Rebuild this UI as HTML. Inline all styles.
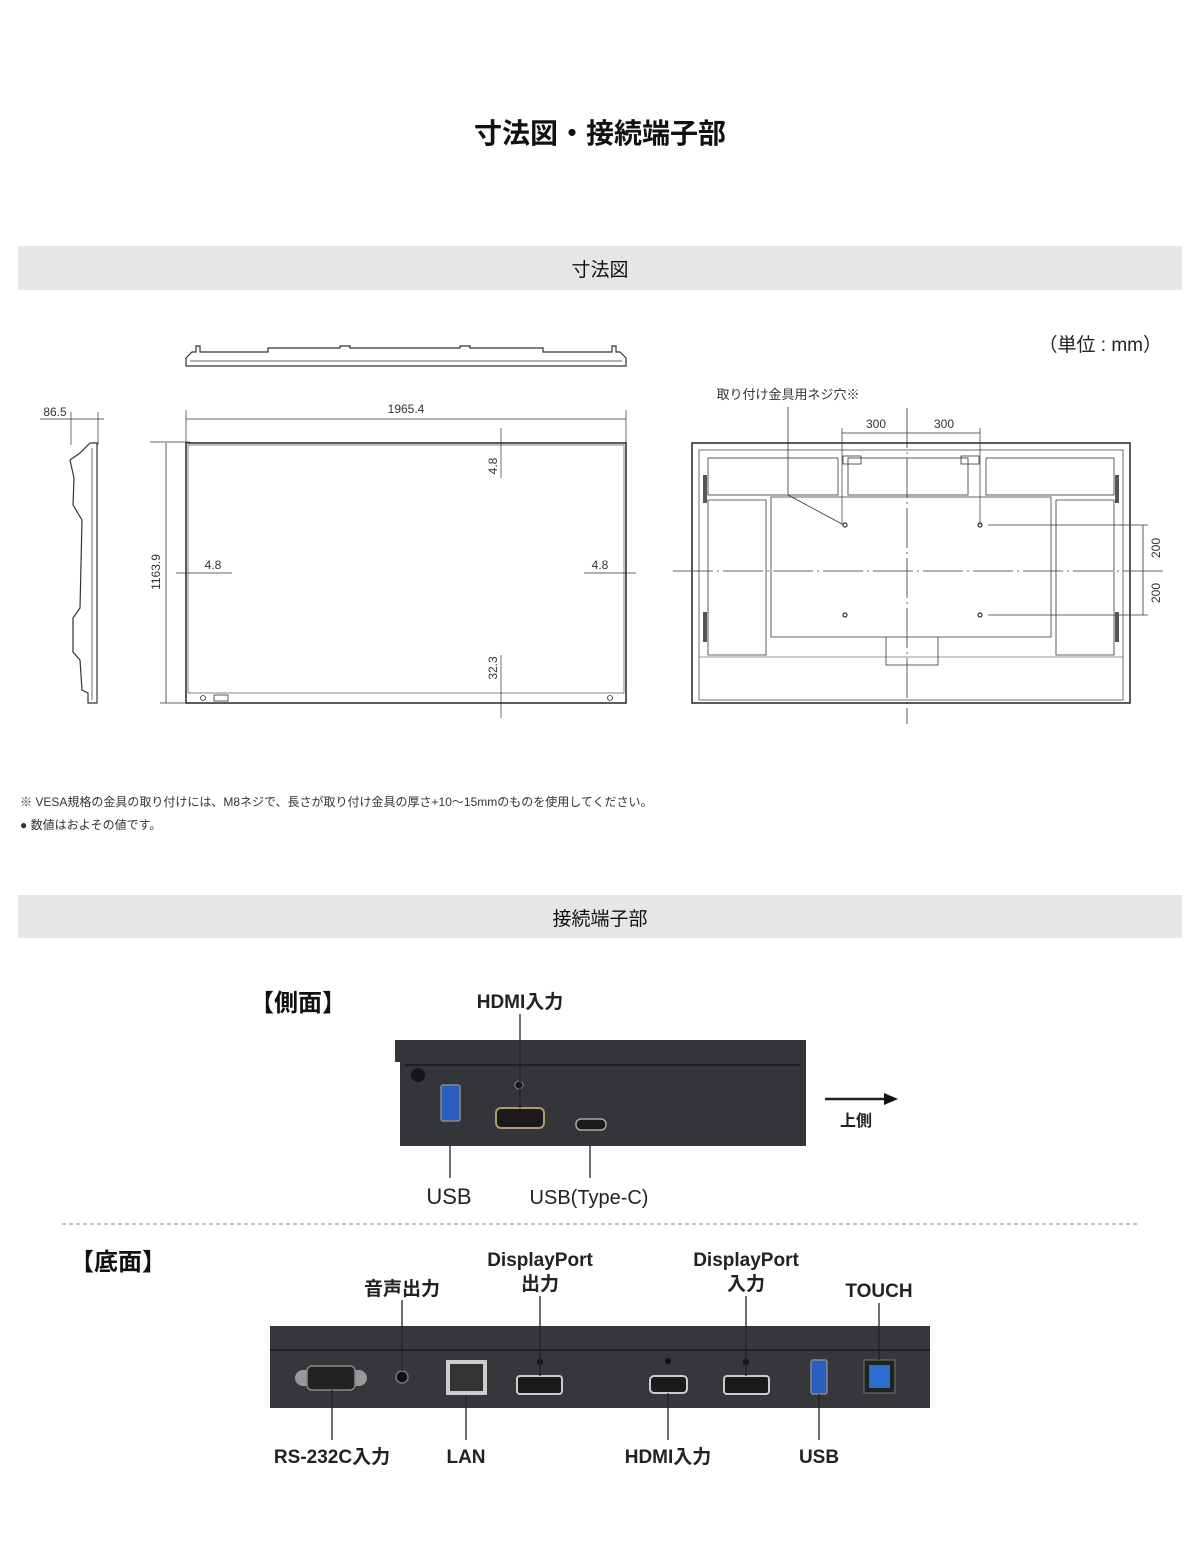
<!DOCTYPE html>
<html><head><meta charset="utf-8"><style>
html,body{margin:0;padding:0;background:#fff;}
body{width:1200px;height:1539px;overflow:hidden;font-family:"Liberation Sans","Noto Sans CJK JP",sans-serif;}
</style></head><body>
<svg width="1200" height="1539" viewBox="0 0 1200 1539" xmlns="http://www.w3.org/2000/svg" font-family="Liberation Sans, Noto Sans CJK JP, sans-serif">
<text x="600" y="143" font-size="28" font-weight="bold" text-anchor="middle" fill="#111">寸法図・接続端子部</text>
<rect x="18" y="246" width="1164" height="44" fill="#e6e6e6"/>
<text x="600" y="276" font-size="19" text-anchor="middle" fill="#111">寸法図</text>
<text x="1162" y="351" font-size="19" text-anchor="end" fill="#222">（単位 : mm）</text>

<g stroke="#333" fill="none" stroke-width="1.2">
<!-- top view -->
<path d="M186 358 L186 366 L626 366 L626 358 L620 352 L616 352 L616 346 L612 346 L612 352 L543 352 L543 348 L470 348 L470 346 L460 346 L460 348 L350 348 L350 346 L340 346 L340 348 L268 348 L268 352 L200 352 L200 346 L196 346 L196 352 L192 352 Z"/>
<line x1="190" y1="361" x2="622" y2="361" stroke-width="0.7"/>
<!-- side view -->
<path d="M90 443 L97 443 L97 703 L88 703 L88 693 L82 690 L80 660 L73 652 L73 618 L80 608 L82 520 L73 505 L74 478 L70 460 L80 453 Z"/>
<line x1="92" y1="448" x2="92" y2="700" stroke-width="0.7"/>
<line x1="40" y1="419" x2="104" y2="419" stroke-width="0.8"/>
<line x1="71" y1="412" x2="71" y2="445" stroke-width="0.7"/>
<line x1="98" y1="412" x2="98" y2="445" stroke-width="0.7"/>
<!-- front -->
<rect x="186" y="443" width="440" height="260" stroke-width="1.6"/>
<rect x="188" y="445" width="436" height="248" stroke-width="0.6"/>
<circle cx="203" cy="698" r="2.5" stroke-width="0.8"/><circle cx="610" cy="698" r="2.5" stroke-width="0.8"/>
<rect x="214" y="695" width="14" height="6" stroke-width="0.8"/>
<line x1="186" y1="419" x2="626" y2="419" stroke-width="0.8"/>
<line x1="186" y1="410" x2="186" y2="443" stroke-width="0.7"/>
<line x1="626" y1="410" x2="626" y2="443" stroke-width="0.7"/>
<line x1="166" y1="443" x2="166" y2="703" stroke-width="0.8"/>
<line x1="150" y1="442" x2="190" y2="442" stroke-width="0.7"/>
<line x1="160" y1="703" x2="190" y2="703" stroke-width="0.7"/>
<line x1="501" y1="428" x2="501" y2="478" stroke-width="0.7"/>
<line x1="501" y1="655" x2="501" y2="718" stroke-width="0.7"/>
<line x1="176" y1="573" x2="232" y2="573" stroke-width="0.7"/>
<line x1="584" y1="573" x2="636" y2="573" stroke-width="0.7"/>
<!-- back -->
<rect x="692" y="443" width="438" height="260" stroke-width="1.6"/>
<rect x="699" y="450" width="424" height="250" stroke-width="0.7"/>
<rect x="708" y="458" width="130" height="37" stroke-width="0.8"/>
<rect x="848" y="458" width="120" height="37" stroke-width="0.8"/>
<rect x="986" y="458" width="128" height="37" stroke-width="0.8"/>
<path d="M708 500 L766 500 L766 655 L708 655 Z" stroke-width="0.8"/>
<path d="M1056 500 L1114 500 L1114 655 L1056 655 Z" stroke-width="0.8"/>
<path d="M771 497 L1051 497 L1051 637 L771 637 Z" stroke-width="0.8"/>
<path d="M886 637 L886 665 L938 665 L938 637" stroke-width="0.8"/>
<line x1="699" y1="657" x2="1123" y2="657" stroke-width="0.6"/>
<rect x="843" y="456" width="18" height="8" stroke-width="0.8"/>
<rect x="961" y="456" width="18" height="8" stroke-width="0.8"/>
<line x1="907" y1="408" x2="907" y2="724" stroke-width="0.8" stroke-dasharray="40 4 2 4"/>
<line x1="673" y1="571" x2="1163" y2="571" stroke-width="0.8" stroke-dasharray="40 4 2 4"/>
<line x1="842" y1="433" x2="980" y2="433" stroke-width="0.8"/>
<line x1="842" y1="428" x2="842" y2="525" stroke-width="0.7"/>
<line x1="980" y1="428" x2="980" y2="525" stroke-width="0.7"/>
<circle cx="845" cy="525" r="2"/><circle cx="980" cy="525" r="2"/>
<circle cx="845" cy="615" r="2"/><circle cx="980" cy="615" r="2"/>
<line x1="988" y1="525" x2="1148" y2="525" stroke-width="0.7"/>
<line x1="988" y1="615" x2="1148" y2="615" stroke-width="0.7"/>
<line x1="1143" y1="525" x2="1143" y2="615" stroke-width="0.8"/>
<path d="M788 407 L788 495 L842 524" stroke-width="0.8"/>
<g fill="#555" stroke="none"><rect x="703" y="475" width="4" height="28"/><rect x="1115" y="475" width="4" height="28"/><rect x="703" y="612" width="4" height="30"/><rect x="1115" y="612" width="4" height="30"/></g>
</g>
<g font-size="12" fill="#333">
<text x="55" y="416" text-anchor="middle">86.5</text>
<text x="406" y="413" text-anchor="middle">1965.4</text>
<text x="213" y="569" text-anchor="middle">4.8</text>
<text x="600" y="569" text-anchor="middle">4.8</text>
<text transform="translate(160 572) rotate(-90)" text-anchor="middle">1163.9</text>
<text transform="translate(497 466) rotate(-90)" text-anchor="middle">4.8</text>
<text transform="translate(497 668) rotate(-90)" text-anchor="middle">32.3</text>
<text x="788" y="399" text-anchor="middle" font-size="13">取り付け金具用ネジ穴※</text>
<text x="876" y="428" text-anchor="middle">300</text>
<text x="944" y="428" text-anchor="middle">300</text>
<text transform="translate(1160 548) rotate(-90)" text-anchor="middle">200</text>
<text transform="translate(1160 593) rotate(-90)" text-anchor="middle">200</text>
</g>
<text x="20" y="806" font-size="12" fill="#333">※ VESA規格の金具の取り付けには、M8ネジで、長さが取り付け金具の厚さ+10〜15mmのものを使用してください。</text>
<text x="20" y="829" font-size="12" fill="#333">● 数値はおよその値です。</text>

<rect x="18" y="895" width="1164" height="43" fill="#e6e6e6"/>
<text x="600" y="925" font-size="19" text-anchor="middle" fill="#111">接続端子部</text>

<!-- side panel -->
<text x="250" y="1011" font-size="24" font-weight="bold" fill="#111">【側面】</text>
<text x="520" y="1008" font-size="19" font-weight="bold" text-anchor="middle" fill="#222">HDMI入力</text>
<path d="M395 1040 L806 1040 L806 1146 L400 1146 L400 1062 L395 1062 Z" fill="#333538"/>
<line x1="405" y1="1065" x2="800" y2="1065" stroke="#1e1f21" stroke-width="2"/>
<circle cx="418" cy="1075" r="7" fill="#151515"/>
<rect x="441" y="1085" width="19" height="36" rx="2" fill="#2a5fbf" stroke="#888" stroke-width="1.5"/>
<circle cx="519" cy="1085" r="4" fill="#111" stroke="#888"/>
<rect x="496" y="1108" width="48" height="20" rx="5" fill="#1a1a1a" stroke="#b09a70" stroke-width="2"/>
<rect x="576" y="1119" width="30" height="11" rx="5" fill="#1a1a1a" stroke="#aaa" stroke-width="1.5"/>
<g stroke="#222" stroke-width="1.3">
<line x1="520" y1="1014" x2="520" y2="1108"/><line x1="450" y1="1146" x2="450" y2="1178"/><line x1="590" y1="1146" x2="590" y2="1178"/>
<line x1="825" y1="1099" x2="886" y2="1099" stroke-width="2.5"/></g>
<path d="M884 1093 L898 1099 L884 1105 Z" fill="#111"/>
<text x="856" y="1126" font-size="16" font-weight="bold" text-anchor="middle" fill="#222">上側</text>
<text x="449" y="1204" font-size="22" text-anchor="middle" fill="#222">USB</text>
<text x="589" y="1204" font-size="20" text-anchor="middle" fill="#222">USB(Type-C)</text>
<line x1="62" y1="1224" x2="1138" y2="1224" stroke="#888" stroke-width="1" stroke-dasharray="4 3"/>

<!-- bottom panel -->
<text x="70" y="1270" font-size="24" font-weight="bold" fill="#111">【底面】</text>
<g font-size="19" font-weight="bold" text-anchor="middle" fill="#222">
<text x="402" y="1295">音声出力</text>
<text x="540" y="1266">DisplayPort</text><text x="540" y="1290">出力</text>
<text x="746" y="1266">DisplayPort</text><text x="746" y="1290">入力</text>
<text x="879" y="1297">TOUCH</text>
<text x="332" y="1463">RS-232C入力</text>
<text x="466" y="1463">LAN</text>
<text x="668" y="1463">HDMI入力</text>
<text x="819" y="1463">USB</text>
</g>
<rect x="270" y="1326" width="660" height="82" fill="#35373a"/>
<line x1="270" y1="1350" x2="930" y2="1350" stroke="#1e1f21" stroke-width="2"/>
<rect x="295" y="1370" width="72" height="16" rx="8" fill="#999"/>
<rect x="307" y="1366" width="48" height="24" rx="5" fill="#222" stroke="#888" stroke-width="1.5"/>
<circle cx="402" cy="1377" r="6" fill="#111" stroke="#777" stroke-width="1.5"/>
<rect x="446" y="1360" width="41" height="35" fill="#ccc"/><rect x="450" y="1364" width="33" height="27" fill="#333"/>
<circle cx="540" cy="1362" r="3" fill="#111"/>
<rect x="517" y="1376" width="45" height="18" rx="3" fill="#1a1a1a" stroke="#ccc" stroke-width="2"/>
<circle cx="668" cy="1361" r="3" fill="#111"/>
<rect x="650" y="1376" width="37" height="17" rx="4" fill="#1a1a1a" stroke="#ccc" stroke-width="2"/>
<circle cx="746" cy="1362" r="3" fill="#111"/>
<rect x="724" y="1376" width="45" height="18" rx="3" fill="#1a1a1a" stroke="#ccc" stroke-width="2"/>
<rect x="811" y="1360" width="16" height="34" rx="2" fill="#2a5fbf" stroke="#888" stroke-width="1.5"/>
<rect x="864" y="1360" width="31" height="33" fill="#222" stroke="#777"/><rect x="869" y="1365" width="21" height="23" fill="#2a6fd0"/>
<g stroke="#222" stroke-width="1.3">
<line x1="402" y1="1300" x2="402" y2="1371"/><line x1="540" y1="1296" x2="540" y2="1376"/><line x1="746" y1="1296" x2="746" y2="1376"/><line x1="879" y1="1303" x2="879" y2="1360"/>
<line x1="332" y1="1390" x2="332" y2="1440"/><line x1="466" y1="1395" x2="466" y2="1440"/><line x1="668" y1="1393" x2="668" y2="1440"/><line x1="819" y1="1394" x2="819" y2="1440"/>
</g>
</svg>
</body></html>
